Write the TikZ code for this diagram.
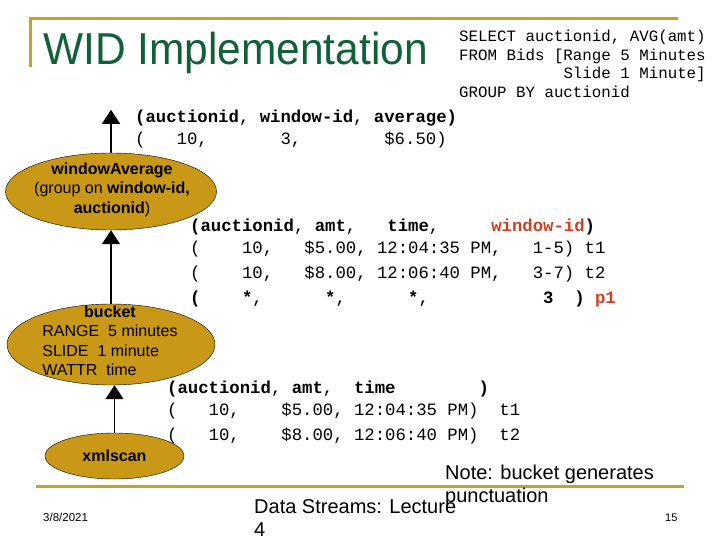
\documentclass[tikz,border=0pt]{standalone}
\usepackage{fontspec}
\setmainfont{Liberation Sans}
\setmonofont{Liberation Mono}
\usepackage{graphicx}
\usetikzlibrary{positioning, arrows.meta, shapes}

\definecolor{opgold}{RGB}{201,152,22}
\definecolor{rulegold}{RGB}{200,160,42}
\definecolor{titlegreen}{RGB}{16,96,56}
\definecolor{hot}{RGB}{208,64,32}

\begin{document}
\begin{tikzpicture}[x=1pt,y=-1pt]
		\tikzstyle{op}=[ellipse, draw, thin, fill=opgold, inner sep=0pt]
		\tikzstyle{optext}=[align=center, inner sep=0pt, font=\fontsize{16}{19.6}\selectfont]
		\tikzstyle{flow}=[-{Triangle[width=18pt,length=14pt]}, line width=1.3pt]
		\tikzstyle{tup}=[anchor=base west, inner sep=0pt, font=\ttfamily\fontsize{17.3}{20}\selectfont]
		\tikzstyle{sql}=[anchor=base west, inner sep=0pt, font=\ttfamily\fontsize{15.8}{18.5}\selectfont]
		\tikzstyle{goldrule}=[rulegold, line width=3pt]
		\tikzstyle{plain}=[anchor=base west, inner sep=0pt]
		\useasboundingbox (0,0) rectangle (720,540);
		% slide frame
		\draw[goldrule] (30,67) -- (30,19) -- (678,19);
		\draw[goldrule] (36,486) -- (684,486);
		\node[plain, text=titlegreen, font=\fontsize{44.7}{50}\selectfont] (title) at (43,65) {\scalebox{0.95}[1]{WID Implementation}};
		% query
		\node[sql] (sql1) at (459,42) {SELECT auctionid, AVG(amt)};
		\node[sql] (sql2) at (459,60.5) {FROM Bids [Range 5 Minutes};
		\node[sql] (sql3) at (459,79) {~~~~~~~~~~~Slide 1 Minute]};
		\node[sql] (sql4) at (459,97.5) {GROUP BY auctionid};
		% operators
		\node[op, minimum width=211pt, minimum height=77pt] (wavg) at (111,191.5) {};
		\node[optext] (wavgtext) at (112,189.5) {\textbf{windowAverage}\\(group on \textbf{window-id,}\\\textbf{auctionid})};
		\node[op, minimum width=208pt, minimum height=81pt] (bucket) at (111,344.5) {};
		\node[optext] (buckettext) at (110,342.5) {\begin{tabular}{@{}l@{}}\multicolumn{1}{@{}c@{}}{\textbf{bucket}}\\RANGE~~5 minutes\\SLIDE~~1 minute\\WATTR~~time\end{tabular}};
		\node[op, minimum width=139pt, minimum height=46pt] (xscan) at (114.5,456) {};
		\node[optext] (xscantext) at (xscan) {\textbf{xmlscan}};
		\coordinate[above=43pt of wavg.north] (outtop);
		\draw[flow] (wavg.north) -- (outtop);
		\draw[flow] (bucket.north) -- (wavg.south);
		\draw[flow] (xscan.north) -- (xscan.north |- bucket.south);
		% tuples
		\node[tup] (res1) at (135,123) {\textbf{(auctionid},~\textbf{window-id},~\textbf{average)}};
		\node[tup] (res2) at (135,145) {(~~~10,~~~~~~~3,~~~~~~~~\$6.50)};
		\node[tup] (win1) at (190,232) {\textbf{(auctionid},~\textbf{amt},~~~\textbf{time},~~~~~\textbf{\textcolor{hot}{window-id})}};
		\node[tup] (win2) at (190,253) {(~~~~10,~~~\$5.00,~12:04:35~PM,~~~1-5)~t1};
		\node[tup] (win3) at (190,278) {(~~~~10,~~~\$8.00,~12:06:40~PM,~~~3-7)~t2};
		\node[tup] (win4) at (190,303) {\textbf{(}~~~~\textbf{*},~~~~~~\textbf{*},~~~~~~\textbf{*},~~~~~~~~~~~\textbf{3}~~\textbf{)}~\textbf{\textcolor{hot}{p1}}};
		\node[tup] (in1) at (167,393) {\textbf{(auctionid},~\textbf{amt},~~\textbf{time}~~~~~~~~\textbf{)}};
		\node[tup] (in2) at (167,415) {(~~~10,~~~~\$5.00,~12:04:35~PM)~~t1};
		\node[tup] (in3) at (167,440) {(~~~10,~~~~\$8.00,~12:06:40~PM)~~t2};
		% footer
		\node[anchor=north west, inner sep=0pt, align=left, font=\fontsize{20}{23}\selectfont] (note) at (445,464.5) {Note: bucket generates\\punctuation};
		\node[anchor=north west, inner sep=0pt, align=left, font=\fontsize{20}{23.5}\selectfont] (lecture) at (254,499) {Data Streams: Lecture\\4};
		\node[plain, font=\fontsize{11.5}{14}\selectfont] (date) at (43,521) {3/8/2021};
		\node[plain, font=\fontsize{11}{14}\selectfont] (page) at (665,521) {15};
\end{tikzpicture}
\end{document}
